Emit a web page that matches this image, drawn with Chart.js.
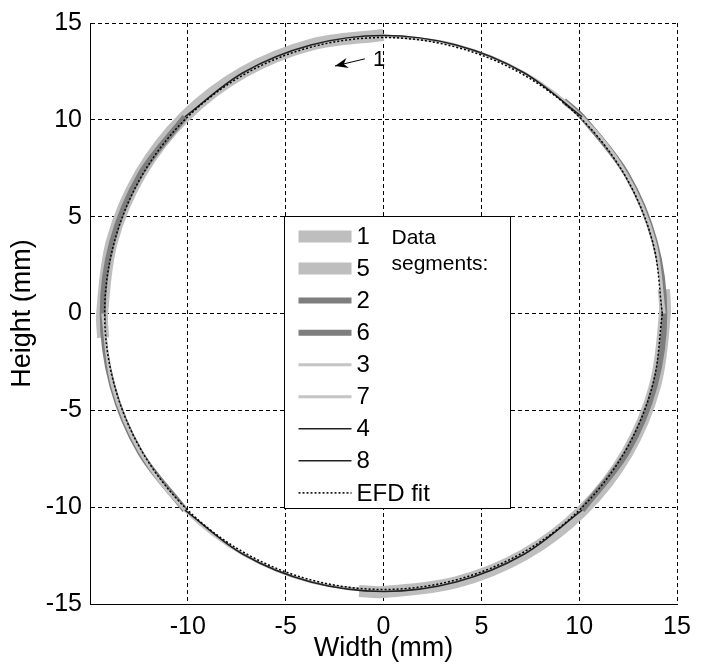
<!DOCTYPE html>
<html>
<head>
<meta charset="utf-8">
<script src="https://cdn.jsdelivr.net/npm/chart.js@4.4.1/dist/chart.umd.min.js"></script>
<style>
  html, body { margin: 0; padding: 0; background: #fff; }
  #wrap { width: 707px; height: 665px; position: relative; }
</style>
</head>
<body>
<div id="wrap"><canvas id="efd-chart"></canvas></div>
<script>
/* EFD fit of a circular outline, 8 overlapping data segments */

// traced segments (mm); each runs counter-clockwise
const seg1X = [0.0, -3.71, -7.18, -10.15, -12.43, -13.88, -14.38, -14.33];
const seg1Y = [14.38, 13.88, 12.45, 10.17, 7.2, 3.72, 0.0, -1.25];
const seg2X = [-10.15, -12.43, -13.86, -14.35, -13.86, -12.43, -10.15];
const seg2Y = [10.15, 7.18, 3.71, 0.0, -3.71, -7.18, -10.15];
const seg3X = [-14.35, -13.86, -12.43, -10.15, -7.18, -3.71, 0.0];
const seg3Y = [0.0, -3.71, -7.18, -10.15, -12.43, -13.86, -14.35];
const seg4X = [-10.15, -7.18, -3.71, 0.0, 3.71, 7.18, 10.15];
const seg4Y = [-10.15, -12.43, -13.86, -14.35, -13.86, -12.43, -10.15];
const seg5X = [-1.25, 0.0, 3.72, 7.2, 10.17, 12.45, 13.88, 14.38, 14.33];
const seg5Y = [-14.33, -14.38, -13.88, -12.45, -10.17, -7.2, -3.72, 0.0, 1.25];
const seg6X = [10.15, 12.43, 13.86, 14.35, 13.86, 12.43, 10.15, 9.22];
const seg6Y = [-10.15, -7.18, -3.71, 0.0, 3.71, 7.18, 10.15, 10.99];
const seg7X = [14.35, 13.86, 12.43, 10.15, 7.18, 3.71, 0.0];
const seg7Y = [0.0, 3.71, 7.18, 10.15, 12.43, 13.86, 14.35];
const seg8X = [10.15, 7.18, 3.71, 0.0, -3.71, -7.18, -10.15];
const seg8Y = [10.15, 12.43, 13.86, 14.35, 13.86, 12.43, 10.15];

// EFD fit outline
const fitX = [14.25, 13.76, 12.34, 10.08, 7.13, 3.69, 0.0, -3.69, -7.13, -10.08, -12.34, -13.76,
              -14.25, -13.76, -12.34, -10.08, -7.13, -3.69, 0.0, 3.69, 7.13, 10.08, 12.34, 13.76, 14.25];
const fitY = [0.0, 3.69, 7.13, 10.08, 12.34, 13.76, 14.25, 13.76, 12.34, 10.08, 7.13, 3.69,
              0.0, -3.69, -7.13, -10.08, -12.34, -13.76, -14.25, -13.76, -12.34, -10.08, -7.13, -3.69, 0.0];

const xTickLabels = [-10, -5, 0, 5, 10, 15];
const yTickLabels = [-15, -10, -5, 0, 5, 10, 15];
const legendLabels = ['1', '5', '2', '6', '3', '7', '4', '8', 'EFD fit'];

const FONT = "'Liberation Sans', Arial, sans-serif";

const toPts = (xs, ys) => xs.map((v, i) => ({ x: v, y: ys[i] }));

const styles = {
  thickLight: { color: '#bebebe', width: 12 },
  thickDark:  { color: '#7e7e7e', width: 6 },
  thinLight:  { color: '#c4c4c4', width: 3 },
  thinBlack:  { color: '#222222', width: 1.5 },
  fit:        { color: '#000000', width: 1.5, dash: [2, 2] }
};

function seg(label, xs, ys, st, order) {
  return {
    label: label,
    data: toPts(xs, ys),
    showLine: true,
    borderColor: st.color,
    borderWidth: st.width,
    borderDash: st.dash || [],
    pointRadius: 0,
    tension: 0.34,
    order: order
  };
}

const datasets = [
  seg('1', seg1X, seg1Y, styles.thickLight, 9),
  seg('5', seg5X, seg5Y, styles.thickLight, 9),
  seg('2', seg2X, seg2Y, styles.thickDark, 8),
  seg('6', seg6X, seg6Y, styles.thickDark, 8),
  seg('3', seg3X, seg3Y, styles.thinLight, 7),
  seg('7', seg7X, seg7Y, styles.thinLight, 7),
  seg('4', seg4X, seg4Y, styles.thinBlack, 6),
  seg('8', seg8X, seg8Y, styles.thinBlack, 6),
  seg('EFD fit', fitX, fitY, styles.fit, 1)
];

// legend box drawn inside the axes, matlab style
const segmentLegend = {
  id: 'segmentLegend',
  afterDatasetsDraw(chart) {
    const { ctx, scales: { x, y } } = chart;
    const left = Math.round(x.getPixelForValue(-5.08)) + 0.5;
    const right = Math.round(x.getPixelForValue(6.46)) + 0.5;
    const top = Math.round(y.getPixelForValue(5.03)) + 0.5;
    const bottom = Math.round(y.getPixelForValue(-10.04)) + 0.5;

    ctx.save();
    ctx.fillStyle = '#fff';
    ctx.fillRect(left, top, right - left, bottom - top);
    ctx.strokeStyle = '#000';
    ctx.lineWidth = 1;
    ctx.strokeRect(left, top, right - left, bottom - top);

    chart.data.datasets.forEach((ds, i) => {
      const yy = top + 20 + i * 32.05;
      ctx.beginPath();
      ctx.strokeStyle = ds.borderColor;
      ctx.lineWidth = ds.borderWidth;
      ctx.setLineDash(ds.borderDash);
      ctx.moveTo(left + 14, yy);
      ctx.lineTo(left + 67, yy);
      ctx.stroke();
      ctx.setLineDash([]);
      ctx.fillStyle = '#000';
      ctx.font = '24px ' + FONT;
      ctx.textBaseline = 'middle';
      ctx.textAlign = 'left';
      ctx.fillText(legendLabels[i], left + 72, yy + 1);
    });

    ctx.font = '21px ' + FONT;
    ctx.textBaseline = 'alphabetic';
    ctx.fillText('Data', left + 107, top + 27);
    ctx.fillText('segments:', left + 107, top + 53);

    // start marker for segment 1
    const tx = x.getPixelForValue(-0.95), ty = y.getPixelForValue(13.15);
    const hx = x.getPixelForValue(-2.48), hy = y.getPixelForValue(12.78);
    const ang = Math.atan2(hy - ty, hx - tx);
    ctx.beginPath();
    ctx.strokeStyle = '#000';
    ctx.lineWidth = 1;
    ctx.moveTo(tx, ty);
    ctx.lineTo(hx, hy);
    ctx.stroke();
    ctx.beginPath();
    ctx.moveTo(hx, hy);
    ctx.lineTo(hx - 14 * Math.cos(ang - 0.38), hy - 14 * Math.sin(ang - 0.38));
    ctx.lineTo(hx - 9 * Math.cos(ang), hy - 9 * Math.sin(ang));
    ctx.lineTo(hx - 14 * Math.cos(ang + 0.38), hy - 14 * Math.sin(ang + 0.38));
    ctx.closePath();
    ctx.fillStyle = '#000';
    ctx.fill();
    ctx.font = '22px ' + FONT;
    ctx.textAlign = 'center';
    ctx.textBaseline = 'middle';
    ctx.fillText('1', x.getPixelForValue(-0.22), y.getPixelForValue(13.1));
    ctx.restore();
  }
};

// dashed grid, solid axis line (border.dash only applies to grid lines in v4)
const axisBorder = { display: true, color: '#000', width: 1, dash: [4, 3] };
const gridOpts = { color: '#000', lineWidth: 1, drawTicks: false };

new Chart(document.getElementById('efd-chart').getContext('2d'), {
  type: 'scatter',
  data: { datasets: datasets },
  plugins: [segmentLegend],
  options: {
    responsive: true,
    maintainAspectRatio: false,
    animation: false,
    layout: { padding: { top: 17, right: 30, left: 0, bottom: 0 } },
    plugins: { legend: { display: false }, tooltip: { enabled: false } },
    scales: {
      x: {
        type: 'linear',
        min: -15,
        max: 15,
        border: axisBorder,
        grid: gridOpts,
        ticks: {
          stepSize: 5,
          padding: 8,
          color: '#000',
          font: { family: FONT, size: 25 },
          callback: v => (xTickLabels.includes(v) ? String(v) : '')
        },
        title: { display: true, text: 'Width (mm)', color: '#000', font: { family: FONT, size: 27 }, padding: { top: 0, bottom: 0 } },
        afterFit: s => { s.height = 61; }
      },
      y: {
        type: 'linear',
        min: -15,
        max: 15,
        border: axisBorder,
        grid: gridOpts,
        ticks: {
          stepSize: 5,
          padding: 8,
          color: '#000',
          font: { family: FONT, size: 25 },
          callback: v => (yTickLabels.includes(v) ? String(v) : '')
        },
        title: { display: true, text: 'Height (mm)', color: '#000', font: { family: FONT, size: 27 }, padding: { top: 6, bottom: 0 } },
        afterFit: s => { s.width = 90; }
      }
    }
  }
});
</script>
</body>
</html>
